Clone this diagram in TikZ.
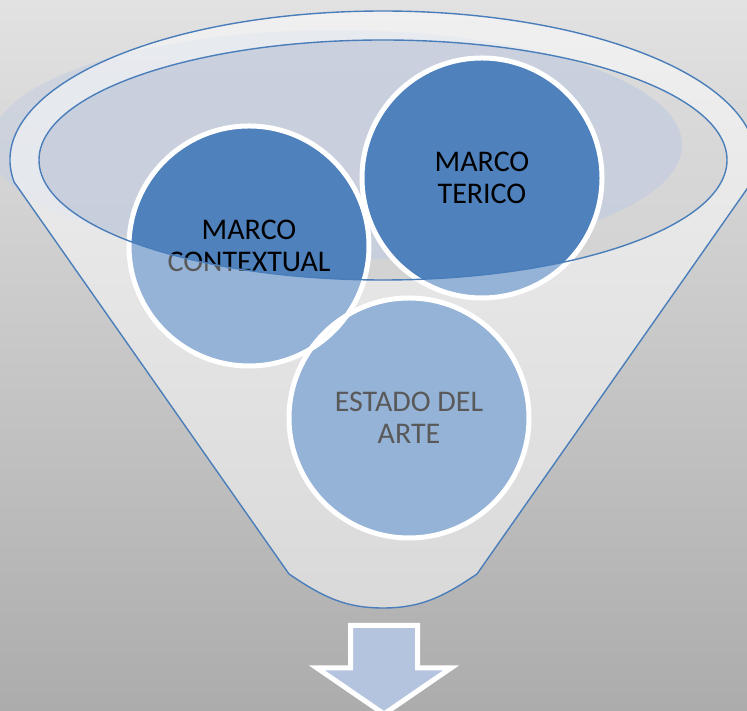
\documentclass[tikz,border=0pt]{standalone}
\usepackage{fontspec}
\setmainfont{Carlito}
\definecolor{bgtop}{RGB}{226,226,226}
\definecolor{bgbot}{RGB}{172,172,172}
\definecolor{rim}{RGB}{74,126,187}
\definecolor{dkblue}{RGB}{79,129,189}
\definecolor{ltblue}{RGB}{149,179,215}
\definecolor{hil}{RGB}{198,207,224}
\definecolor{hiltwo}{RGB}{190,201,224}
\definecolor{arrowfill}{RGB}{180,196,223}
\definecolor{greytext}{RGB}{89,89,89}
\begin{document}
\begin{tikzpicture}[x=1pt,y=1pt,
  bub/.style={circle, minimum size=240pt, inner sep=0pt, align=center,
    font=\fontsize{30}{32.5}\selectfont},
  lightbub/.style={bub, fill=ltblue, text=greytext},
  darktext/.style={bub, text=black},
  ring/.style={white, line width=5pt},
  rimline/.style={rim, line width=1.4pt},
  innerell/.style={x radius=344, y radius=120},
  hilell/.style={x radius=346, y radius=115}]
\useasboundingbox (0,0) rectangle (747,711);
\clip (0,0) rectangle (747,711);
% background
\shade[bottom color=bgbot, top color=bgtop] (0,0) rectangle (747,711);
% named reference points
\coordinate (fc) at (383,551);
\coordinate (hc) at (336,566);
% highlight behind
\fill[hil, opacity=0.6] (hc) ellipse [hilell];
% funnel body
\fill[white, opacity=0.5] (14.1,529) arc[start angle=188.49, end angle=-8.49, x radius=373, y radius=149]
  -- (477,137) to[out=214,in=0] (383,103) to[out=180,in=-34] (289,137) -- cycle;
% inner ellipse darkening
\fill[black, opacity=0.08] (fc) ellipse [innerell];
\begin{scope}
  \clip (fc) ellipse [innerell];
  \fill[hiltwo, opacity=0.45] (hc) ellipse [hilell];
\end{scope}
% circles (light parts)
\node[lightbub] (arte) at (409,293) {ESTADO DEL\\ARTE};
\node[lightbub] (ctx) at (249,465) {MARCO\\CONTEXTUAL};
\node[lightbub] (teo) at (482,533) {MARCO\\TERICO};
% dark parts inside the inner ellipse
\begin{scope}
  \clip (fc) ellipse [innerell];
  \fill[dkblue] (ctx.center) circle (120);
  \fill[dkblue] (teo.center) circle (120);
  \node[darktext] (ctxdark) at (ctx.center) {MARCO\\CONTEXTUAL};
  \node[darktext] (teodark) at (teo.center) {MARCO\\TERICO};
\end{scope}
% white rims of circles
\draw[ring] (arte.center) circle (120);
\draw[ring] (ctx.center) circle (120);
\draw[ring] (teo.center) circle (120);
% funnel outlines
\draw[rimline] (fc) ellipse [innerell];
\draw[rimline] (14.1,529) arc[start angle=188.49, end angle=-8.49, x radius=373, y radius=149]
  -- (477,137) to[out=214,in=0] (383,103) to[out=180,in=-34] (289,137) -- cycle;
% down arrow
\draw[white, line width=5pt, fill=arrowfill, line join=miter]
  (350.5,85.5) -- (417.5,85.5) -- (417.5,43) -- (451,43) -- (384,-3) -- (317,43) -- (350.5,43) -- cycle;
\end{tikzpicture}
\end{document}
